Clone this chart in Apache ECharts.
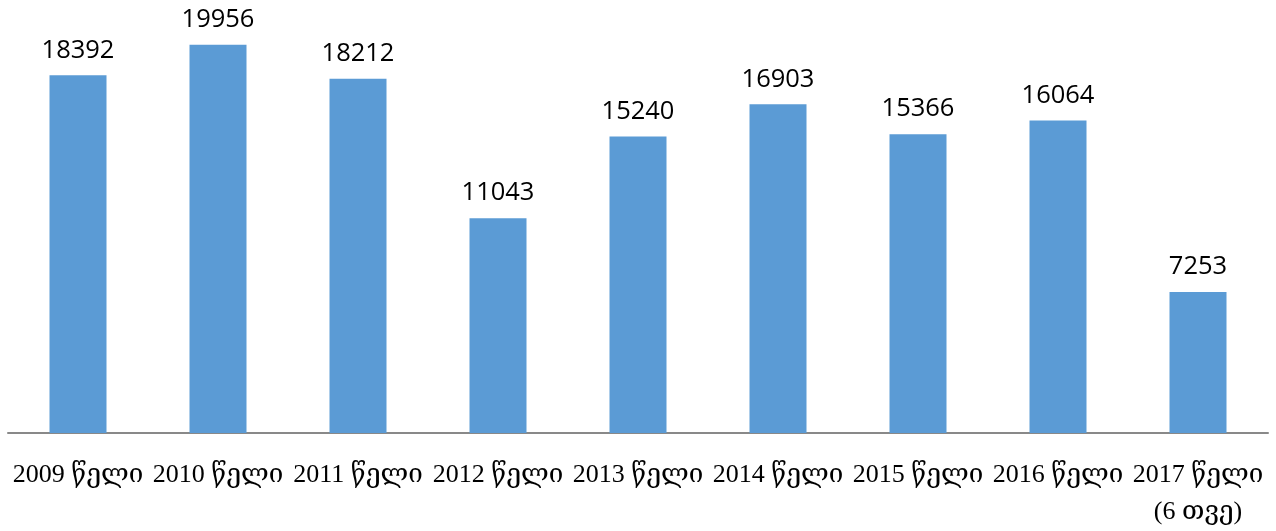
<!DOCTYPE html>
<html>
<head>
<meta charset="utf-8">
<script src="https://cdn.jsdelivr.net/npm/echarts@6/dist/echarts.min.js"></script>
<style>html,body{margin:0;padding:0;background:#fff}#c{width:1276px;height:531px}</style>
</head>
<body>
<div id="c"></div>
<script>
var categories = ['2009 წელი','2010 წელი','2011 წელი','2012 წელი','2013 წელი','2014 წელი','2015 წელი','2016 წელი','2017 წელი\n(6 თვე)'];
var values = [18392, 19956, 18212, 11043, 15240, 16903, 15366, 16064, 7253];

var chart = echarts.init(document.getElementById('c'));
chart.setOption({
  animation: false,
  grid: {left: 8, right: 8, top: 44, bottom: 95, containLabel: false},
  xAxis: {
    type: 'category',
    data: categories,
    axisLine: {lineStyle: {color: '#898989', width: 2}},
    axisTick: {show: false},
    axisLabel: {
      interval: 0,
      color: '#000',
      fontFamily: "'Liberation Serif', 'DejaVu Serif', serif",
      fontSize: 26,
      lineHeight: 37,
      margin: 24
    }
  },
  yAxis: {
    type: 'value',
    min: 0,
    max: 20000,
    show: false,
    splitLine: {show: false}
  },
  series: [{
    type: 'bar',
    data: values,
    barWidth: 57,
    itemStyle: {color: '#5B9BD5'},
    label: {
      show: true,
      position: 'top',
      distance: 12,
      color: '#000',
      fontFamily: "'Open Sans', 'Noto Sans', sans-serif",
      fontSize: 25.5
    }
  }]
});
</script>
</body>
</html>
